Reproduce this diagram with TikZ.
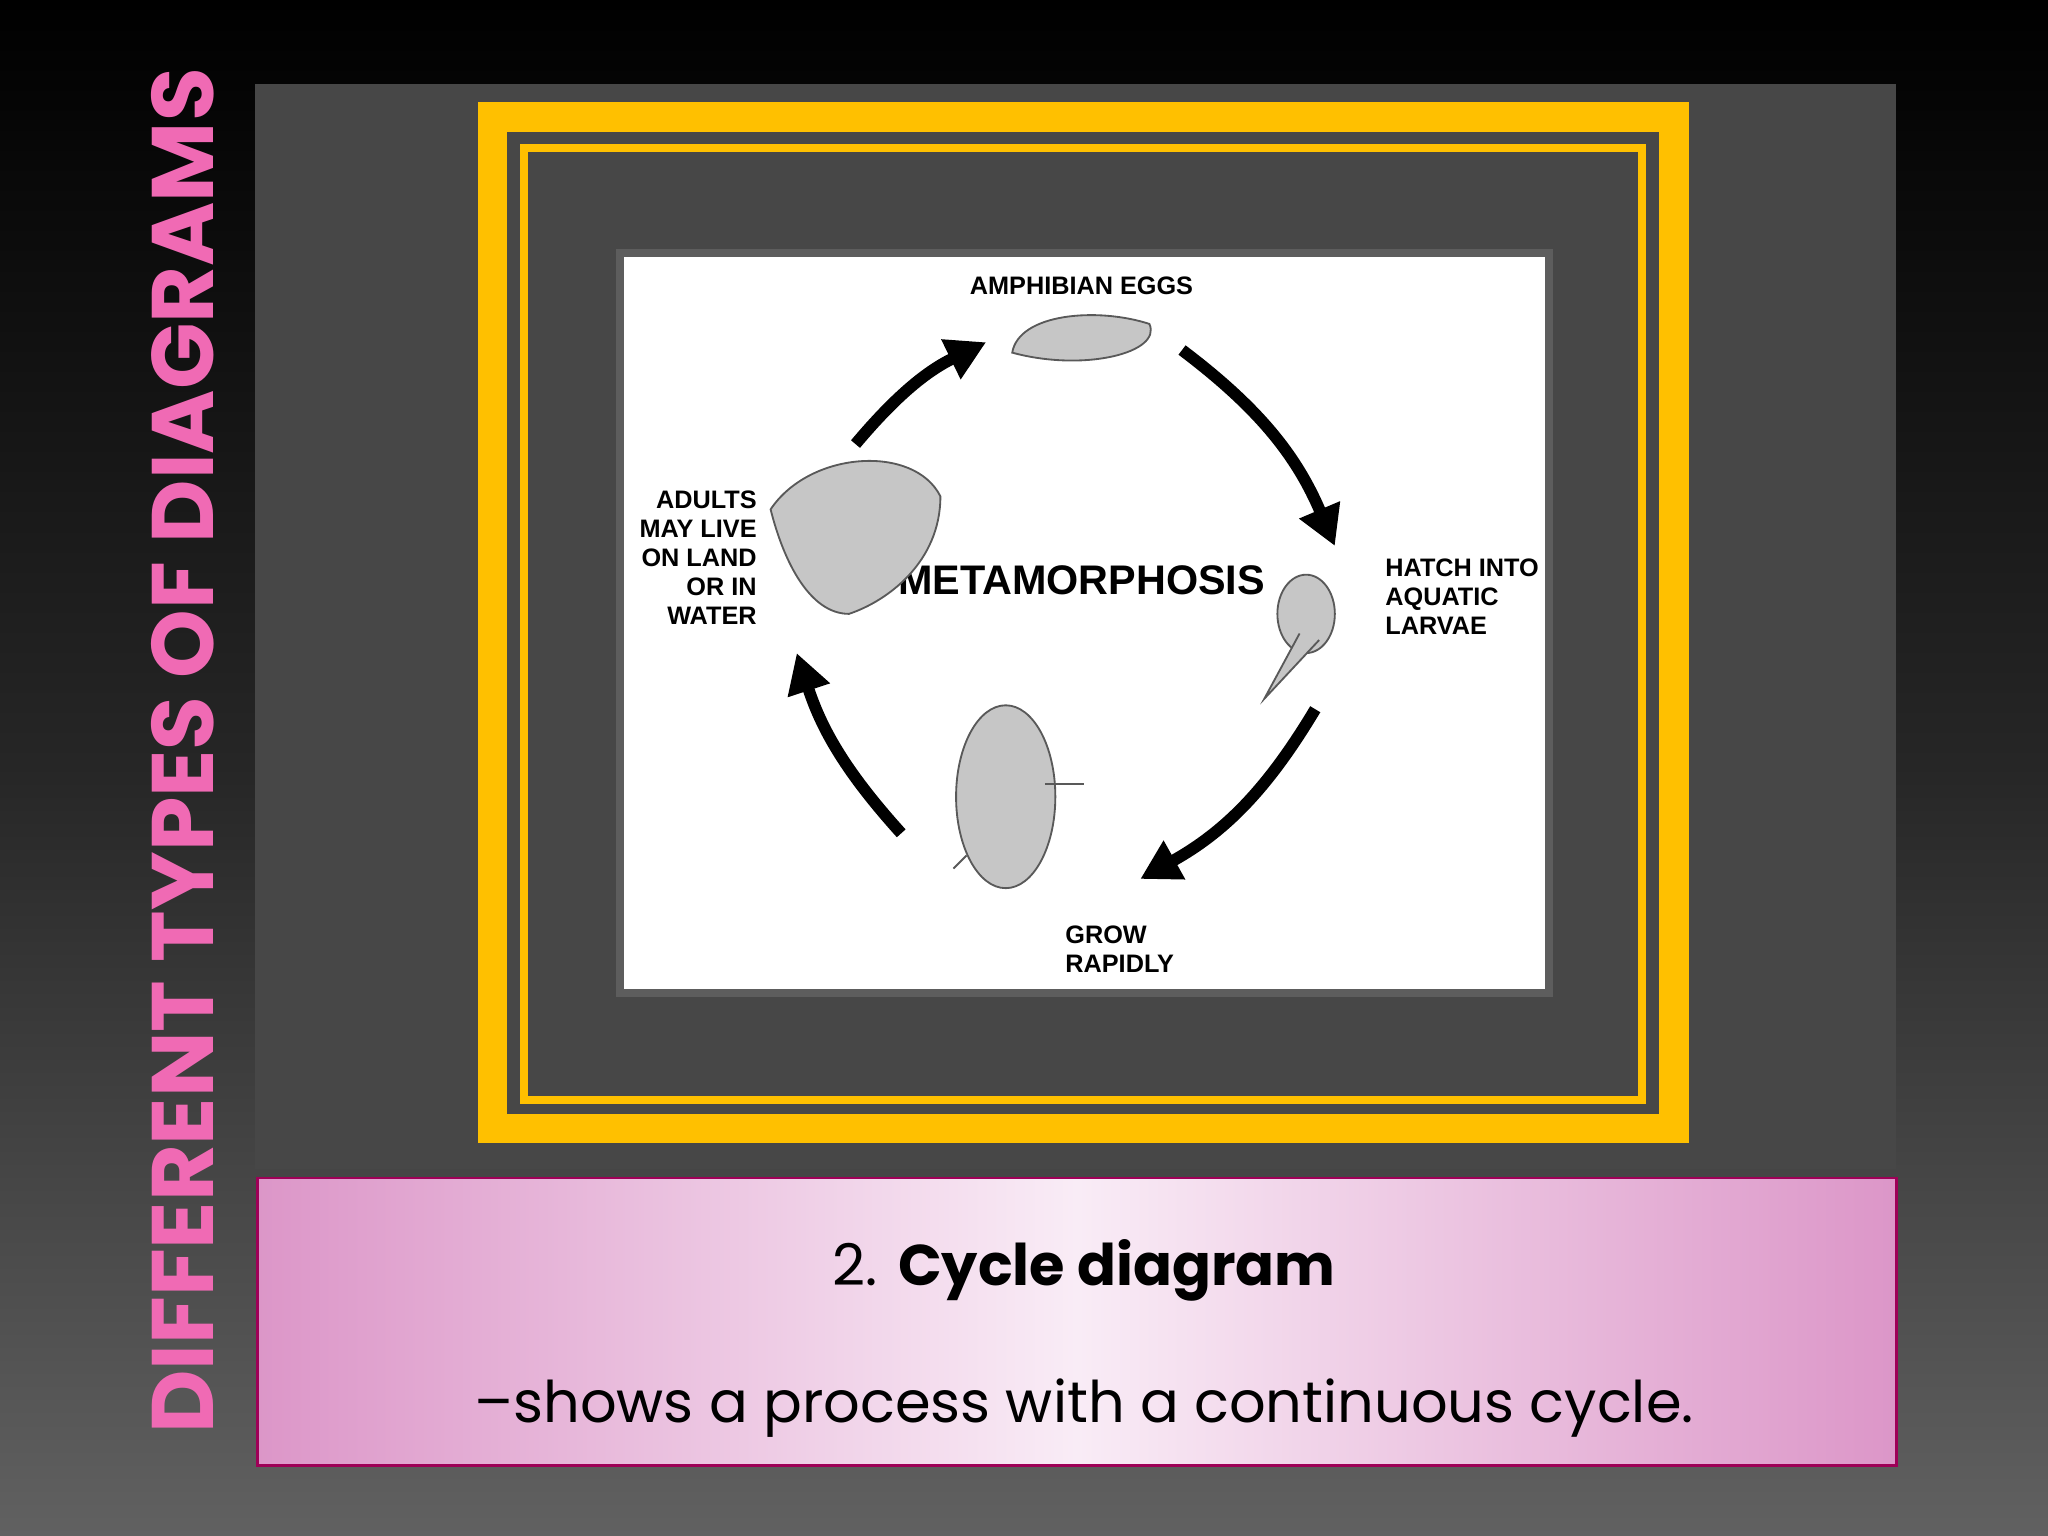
\documentclass[tikz,border=0pt]{standalone}
\usepackage{fontspec}
\setmainfont{Poppins}
\newfontfamily\labfont{Liberation Sans}
\usetikzlibrary{arrows.meta}
\definecolor{ygold}{HTML}{FFC000}
\definecolor{panel}{HTML}{474747}
\definecolor{ttl}{HTML}{F06AB4}
\definecolor{pinkedge}{HTML}{DC96C8}
\definecolor{pinkmid}{HTML}{F9ECF6}
\tikzset{
 lab/.style={font=\labfont\bfseries\fontsize{5.5}{6.3}\selectfont, align=left, inner sep=0pt},
 cyc/.style={line width=0.09cm, -{Triangle[length=0.3cm,width=0.32cm]}},
 animal/.style={fill=gray!45, draw=gray!70!black, line width=0.4pt}
}
\begin{document}
\begin{tikzpicture}[x=0.01cm,y=-0.01cm]
\useasboundingbox (0,0) rectangle (1568,1176);
\shade[top color=black, bottom color=black!62!white, middle color=black!85!white, shading angle=0] (0,0) rectangle (1568,1176);
\node[rotate=90, text=ttl, font=\bfseries\fontsize{19}{19}\selectfont] (title) at (140,575) {DIFFERENT TYPES OF DIAGRAMS};
\fill[panel] (195,64) rectangle (1452,895);
\fill[ygold] (366,78) rectangle (1293,875);
\fill[panel] (388,101) rectangle (1270,853);
\draw[ygold, line width=0.06cm] (401,113) rectangle (1257,842);
% shadow
\fill[black!55, opacity=0.5] (472,191) rectangle (1189,763);
\fill[white] (478,197) rectangle (1183,757);
% labels
\node[lab] (eggs) at (828,219) {AMPHIBIAN EGGS};
\node[lab, font=\labfont\bfseries\fontsize{9}{10}\selectfont] (meta) at (828,444) {METAMORPHOSIS};
\node[lab, anchor=west] (hatch) at (1060,457) {HATCH INTO\\AQUATIC\\LARVAE};
\node[lab, anchor=west] (grow) at (815,727) {GROW\\RAPIDLY};
\node[lab, align=right, anchor=east] (adults) at (580,427) {ADULTS\\MAY LIVE\\ON LAND\\OR IN\\WATER};
% animals
\fill[animal] (775,270) .. controls (780,240) and (840,235) .. (880,248) .. controls (890,270) and (830,285) .. (775,270) -- cycle;
\draw[animal] (1000,470) ellipse (22 and 30);
\draw[animal] (1010,490) -- (968,535) -- (995,485);
\draw[animal] (770,610) ellipse (38 and 70);
\draw[animal] (740,655) -- (730,665); \draw[animal] (800,600) -- (830,600);
\draw[animal] (590,390) .. controls (620,345) and (700,340) .. (720,380) .. controls (720,430) and (680,460) .. (650,470) .. controls (620,470) and (600,430) .. (590,390) -- cycle;
% arrows
\coordinate (a1) at (655,340); \coordinate (a2) at (755,262);
\coordinate (b1) at (905,268); \coordinate (b2) at (1022,418);
\coordinate (c1) at (1007,543); \coordinate (c2) at (873,673);
\coordinate (d1) at (690,638); \coordinate (d2) at (610,500);
\draw[cyc] (a1) to[bend left=12] (a2);
\draw[cyc] (b1) to[bend left=15] (b2);
\draw[cyc] (c1) to[bend left=15] (c2);
\draw[cyc] (d1) to[bend left=12] (d2);
% pink box
\shade[left color=pinkedge, right color=pinkedge, middle color=pinkmid] (197,902) rectangle (1452,1122);
\draw[black!30!purple!80!magenta, line width=0.02cm] (197,902) rectangle (1452,1122);
\node[font=\fontsize{12.5}{14}\selectfont] (head) at (830,973) {2. \textbf{Cycle diagram}};
\node[font=\fontsize{12.5}{14}\selectfont] (desc) at (830,1078) {–shows a process with a continuous cycle.};
\end{tikzpicture}
\end{document}
